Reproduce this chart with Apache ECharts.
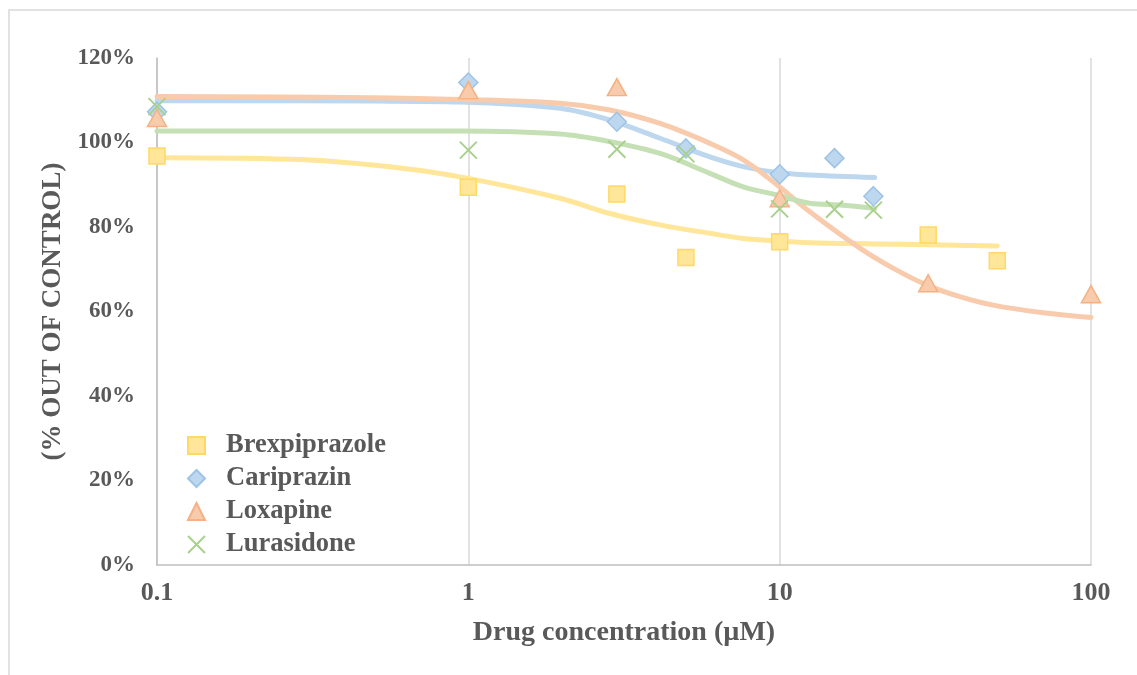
<!DOCTYPE html>
<html>
<head>
<meta charset="utf-8">
<script src="https://cdn.jsdelivr.net/npm/echarts@6/dist/echarts.min.js"></script>
<style>html,body{margin:0;padding:0;background:#fff}#c{width:1137px;height:675px}</style>
</head>
<body>
<div id="c"></div>
<script>
// Measured points (concentration in µM, response in % of control)
var brexX = [0.1, 1, 3, 5, 10, 30, 50];
var brexY = [96.8, 89.4, 87.8, 72.8, 76.5, 78.1, 72.0];
var cariX = [0.1, 1, 3, 5, 10, 15, 20];
var cariY = [107.3, 114.2, 104.9, 98.6, 92.5, 96.3, 87.3];
var loxX = [0.1, 1, 3, 10, 30, 100];
var loxY = [105.8, 112.4, 113.1, 86.8, 66.7, 64.1];
var luraX = [0.1, 1, 3, 5, 10, 15, 20];
var luraY = [108.5, 98.2, 98.4, 97.3, 84.3, 84.2, 84.0];

// Fitted curves
var brexFitX = [0.1, 0.3, 0.63, 1, 1.97, 2.85, 4.13, 5.97, 7.64, 9.8, 12.5, 20, 30, 50];
var brexFitY = [96.4, 95.9, 93.8, 91.5, 86.8, 83.2, 80.5, 78.5, 77.3, 76.7, 76.3, 76.0, 75.8, 75.5];
var cariFitX = [0.1, 0.5, 0.94, 1.97, 2.85, 4.13, 5.97, 7.64, 9.8, 12.5, 20.2];
var cariFitY = [109.9, 109.8, 109.6, 108.1, 105.3, 101.0, 96.6, 94.3, 92.9, 92.3, 91.7];
var loxFitX = [0.1, 0.5, 0.94, 1.97, 2.85, 4.13, 5.97, 7.64, 9.8, 12.5, 18.1, 23.2, 29.6, 37.9, 48.5, 70.3, 100];
var loxFitY = [110.9, 110.6, 110.2, 109.3, 107.7, 104.5, 99.8, 95.9, 90.0, 83.6, 75.0, 70.2, 66.3, 63.5, 61.5, 59.7, 58.6];
var luraFitX = [0.1, 0.94, 1.97, 2.85, 4.13, 5.97, 7.64, 9.8, 12.5, 15.6, 20.2];
var luraFitY = [102.7, 102.7, 102.0, 100.2, 97.4, 92.7, 89.5, 87.6, 85.6, 85.2, 84.4];

var names = ['Brexpiprazole', 'Cariprazin', 'Loxapine', 'Lurasidone'];
var xTicks = [0.1, 1, 10, 100];

function pairs(xs, ys) { return xs.map(function (x, i) { return [x, ys[i]]; }); }

var FONT = '"Liberation Serif", "Times New Roman", serif';
var TXT = '#595959';

function fitLine(name, xs, ys, color) {
  return {
    name: name + ' fit', type: 'line', data: pairs(xs, ys), smooth: 0.35,
    showSymbol: false, symbol: 'none', silent: true,
    lineStyle: { color: color, width: 5, cap: 'round', join: 'round' },
    z: 2
  };
}

var option = {
  animation: false,
  backgroundColor: '#fff',
  graphic: [{
    type: 'rect', left: 6.5, top: 7.5, silent: true,
    shape: { x: 0, y: 0, width: 1200, height: 700 },
    style: { fill: 'none', stroke: '#d9d9d9', lineWidth: 1.5 }
  }],
  grid: { left: 157, right: 46, top: 58, bottom: 110, containLabel: false },
  legend: {
    data: names, orient: 'vertical', left: 182, top: 427,
    itemWidth: 17, itemHeight: 17, itemGap: 6,
    textStyle: { fontFamily: FONT, fontWeight: 'bold', fontSize: 26.5, color: TXT, padding: [0, 0, 0, 16] }
  },
  xAxis: {
    type: 'log', logBase: 10, min: 0.1, max: 100,
    name: 'Drug concentration (µM)', nameLocation: 'middle', nameGap: 54,
    nameTextStyle: { fontFamily: FONT, fontWeight: 'bold', fontSize: 28, color: TXT },
    axisLine: { show: true, lineStyle: { color: '#bfbfbf', width: 1.5 } },
    axisTick: { show: false },
    axisLabel: {
      margin: 15, fontFamily: FONT, fontWeight: 'bold', fontSize: 26, color: TXT,
      formatter: function (v) {
        var best = xTicks.reduce(function (a, b) { return Math.abs(Math.log10(b) - Math.log10(v)) < Math.abs(Math.log10(a) - Math.log10(v)) ? b : a; });
        return String(best);
      }
    },
    splitLine: { show: true, lineStyle: { color: '#d9d9d9', width: 1.5 } },
    minorSplitLine: { show: false }
  },
  yAxis: {
    type: 'value', min: 0, max: 120, interval: 20,
    name: '(% OUT OF CONTROL)', nameLocation: 'middle', nameGap: 86, nameRotate: 90,
    nameTextStyle: { fontFamily: FONT, fontWeight: 'bold', fontSize: 27, color: TXT },
    axisLine: { show: true, lineStyle: { color: '#bfbfbf', width: 1.5 } },
    axisTick: { show: false },
    axisLabel: { margin: 22, fontFamily: FONT, fontWeight: 'bold', fontSize: 23, color: TXT, formatter: '{value}%' },
    splitLine: { show: false }
  },
  series: [
    fitLine(names[0], brexFitX, brexFitY, '#FFE699'),
    fitLine(names[1], cariFitX, cariFitY, '#BDD7EE'),
    fitLine(names[2], loxFitX, loxFitY, '#F8CBAD'),
    fitLine(names[3], luraFitX, luraFitY, '#C5E0B4'),
    {
      name: names[0], type: 'scatter', data: pairs(brexX, brexY), symbol: 'rect', symbolSize: 16,
      itemStyle: { color: '#FFE699', borderColor: '#FFD966', borderWidth: 1.5, opacity: 1 }, z: 3
    },
    {
      name: names[1], type: 'scatter', data: pairs(cariX, cariY), symbol: 'diamond', symbolSize: [19, 19],
      itemStyle: { color: '#BDD7EE', borderColor: '#9DC3E6', borderWidth: 1.5, opacity: 1 }, z: 3
    },
    {
      name: names[2], type: 'scatter', data: pairs(loxX, loxY), symbol: 'triangle', symbolSize: [19, 17],
      itemStyle: { color: '#F8CBAD', borderColor: '#F4B183', borderWidth: 1.5, opacity: 1 }, z: 3
    },
    {
      name: names[3], type: 'scatter', data: pairs(luraX, luraY),
      symbol: 'path://M0,0L10,10M10,0L0,10', symbolSize: 17,
      itemStyle: { color: 'rgba(0,0,0,0)', borderColor: '#A9D18E', borderWidth: 2, opacity: 1 }, z: 3
    }
  ]
};

var chart = echarts.init(document.getElementById('c'), null, { renderer: 'canvas' });
chart.setOption(option);
</script>
</body>
</html>
